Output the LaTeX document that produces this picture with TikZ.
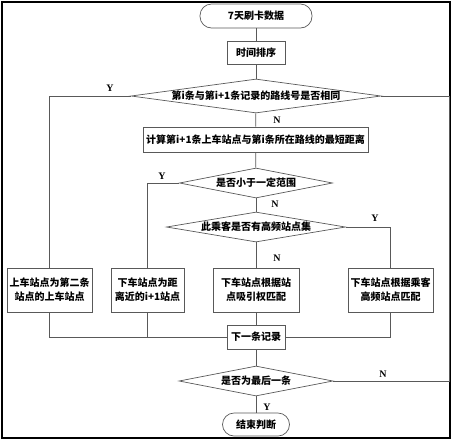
\documentclass[tikz,border=0pt]{standalone}
\usepackage{fontspec}
\setmainfont{Liberation Serif}
\newfontfamily\cjk{Noto Sans CJK SC}
\usetikzlibrary{shapes.geometric}
\begin{document}
\begin{tikzpicture}[x=1pt,y=-1pt,font=\cjk\bfseries\fontsize{10}{14}\selectfont,
line/.style={draw=black!65,line width=0.7pt},
box/.style={line,rectangle,inner sep=0pt,align=center},
term/.style={box,rounded corners=11.5pt},
dec/.style={line,diamond,inner sep=0pt},
yn/.style={font=\bfseries\fontsize{10}{12}\selectfont,inner sep=0pt}]
\useasboundingbox(0,0)rectangle(452,440);
\draw[line width=1.8pt](2,2)rectangle(450,438);
\node[term,minimum width=112pt,minimum height=24pt](start)at(256,16){7天刷卡数据};
\node[box,minimum width=58pt,minimum height=23pt](sort)at(256,52.5){时间排序};
\node[dec,aspect=7.3,minimum width=250pt,minimum height=34pt](d1)at(256,96){第i条与第i+1条记录的路线号是否相同};
\node[box,minimum width=225pt,minimum height=25pt](calc)at(255.5,139.5){计算第i+1条上车站点与第i条所在路线的最短距离};
\node[dec,aspect=5.1,minimum width=153pt,minimum height=30pt](d2)at(256,183){是否小于一定范围};
\node[dec,aspect=6,minimum width=179pt,minimum height=30pt](d3)at(256,227){此乘客是否有高频站点集};
\node[box,minimum width=85pt,minimum height=44pt](bA)at(49.5,290){上车站点为第二条\\站点的上车站点};
\node[box,minimum width=73pt,minimum height=44pt](bB)at(147.5,290){下车站点为距\\离近的i+1站点};
\node[box,minimum width=86pt,minimum height=44pt](bC)at(256,290){下车站点根据站\\点吸引权匹配};
\node[box,minimum width=85pt,minimum height=44pt](bD)at(390.5,290){下车站点根据乘客\\高频站点匹配};
\node[box,minimum width=58pt,minimum height=24pt](next)at(256,337){下一条记录};
\node[dec,aspect=5.1,minimum width=154pt,minimum height=30pt](d4)at(256,381){是否为最后一条};
\node[term,minimum width=67pt,minimum height=23pt](stop)at(256,424.5){结束判断};
\coordinate(back)at(449,96);
\draw[line](start)--(sort);
\draw[line](sort)--(d1);
\draw[line](d1)--(calc);
\draw[line](d1.west)-|(bA.north);
\draw[line](calc)--(d2);
\draw[line](d2.west)-|(bB.north);
\draw[line](d2)--(d3);
\draw[line](d3.east)-|(bD.north);
\draw[line](d3)--(bC);
\draw[line](bA.south)|-(next.west);
\draw[line](bB.south)--(bB.south|-next.west);
\draw[line](bC)--(next);
\draw[line](bD.south)|-(next.east);
\draw[line](next)--(d4);
\draw[line](d4)--(stop);
\draw[line](d4.east)-|(back)--(d1.east);
\node[yn]at(110,88){Y};
\node[yn]at(277,120){N};
\node[yn]at(162,176){Y};
\node[yn]at(275,204){N};
\node[yn]at(375,218){Y};
\node[yn]at(277,258){N};
\node[yn]at(383,374){N};
\node[yn]at(267,407){Y};
\end{tikzpicture}
\end{document}
